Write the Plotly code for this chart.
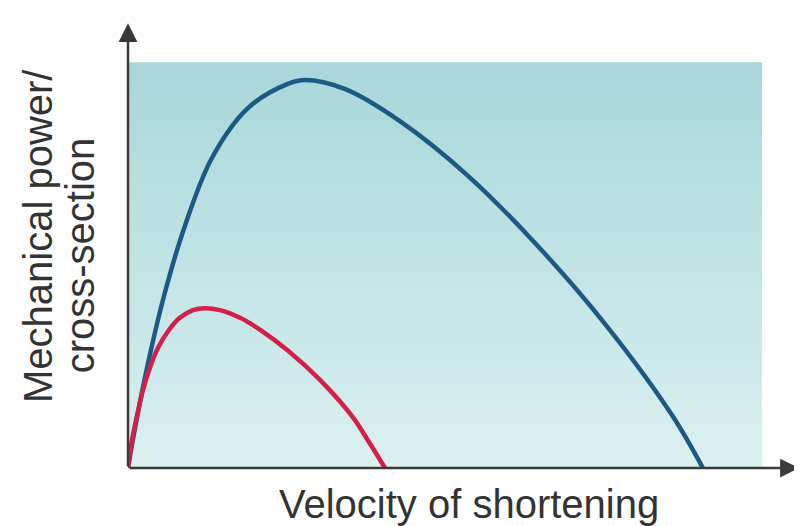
import plotly.graph_objects as go

# Velocity of shortening (relative units, blue Vmax = 100) and power (blue peak = 100)
blue_v = [0, 1.0, 3.5, 6.4, 9.9, 14.6, 20.9, 27.8, 30.8, 37.7, 47.3, 59.0, 70.8,
          83.0, 94.6, 100]
blue_p = [0, 8.5, 27.1, 45.1, 62.4, 79.9, 92.8, 99.0, 100, 97.7, 89.4, 75.5, 58.0,
          37.1, 13.7, 0]

red_v = [0, 0.7, 1.6, 2.6, 3.8, 5.2, 7.0, 9.0, 11.3, 13.4, 16.0, 19.5, 23.0, 27.7,
         33.4, 39.1, 41.7, 44.7]
red_p = [0, 7.2, 13.7, 20.1, 25.8, 30.9, 35.3, 38.7, 40.7, 41.2, 40.7, 38.7, 35.6, 30.4,
         22.7, 13.1, 7.2, 0]

# background panel extent (data units)
panel_x = [0, 110.3, 110.3, 0, 0]
panel_y = [0, 0, 104.6, 104.6, 0]

x_max = 116.9
y_max = 114.95

fig = go.Figure()

fig.add_trace(go.Scatter(
    x=panel_x, y=panel_y, mode="lines", fill="toself",
    line=dict(width=0, color="rgba(0,0,0,0)"),
    fillgradient=dict(type="vertical",
                      colorscale=[[0, "#dbf0f0"], [1, "#a8d7d9"]]),
    hoverinfo="skip", showlegend=False))

fig.add_trace(go.Scatter(
    x=blue_v, y=blue_p, mode="lines",
    line=dict(color="#1c5a85", width=4.5, shape="spline", smoothing=1.0),
    showlegend=False))

fig.add_trace(go.Scatter(
    x=red_v, y=red_p, mode="lines",
    line=dict(color="#d41f4c", width=4.5, shape="spline", smoothing=1.0),
    showlegend=False))

axis_col = "#3a3a3a"
font = dict(family="Liberation Sans, Arial, sans-serif", size=40, color="#333333")
annotations = [
    # y axis arrow
    dict(x=0, y=y_max - 0.3, ax=0, ay=0, xref="x", yref="y", axref="x", ayref="y",
         showarrow=True, arrowhead=2, arrowsize=1.5, arrowwidth=2.5,
         arrowcolor=axis_col, text=""),
    # x axis arrow
    dict(x=x_max - 0.2, y=0, ax=0, ay=0, xref="x", yref="y", axref="x", ayref="y",
         showarrow=True, arrowhead=2, arrowsize=1.5, arrowwidth=2.5,
         arrowcolor=axis_col, text=""),
    dict(text="Velocity of shortening", x=0.507, y=-0.0807, xref="paper", yref="paper",
         xanchor="center", yanchor="middle", showarrow=False, font=font),
    dict(text="Mechanical power/", x=-0.134, y=0.520, xref="paper", yref="paper",
         xanchor="center", yanchor="middle", showarrow=False, textangle=-90, font=font),
    dict(text="cross-section", x=-0.071, y=0.4776, xref="paper", yref="paper",
         xanchor="center", yanchor="middle", showarrow=False, textangle=-90, font=font),
]

# the page body adds an 8px offset, so the figure is 8px smaller than the window
fig.update_layout(
    width=794, height=518,
    margin=dict(l=120, r=2, t=14, b=58),
    paper_bgcolor="white", plot_bgcolor="white",
    xaxis=dict(range=[0, x_max], showgrid=False, zeroline=False, showticklabels=False,
               ticks="", showline=False, fixedrange=True),
    yaxis=dict(range=[0, y_max], showgrid=False, zeroline=False, showticklabels=False,
               ticks="", showline=False, fixedrange=True),
    annotations=annotations,
    showlegend=False,
)

fig.write_html("out.html")
